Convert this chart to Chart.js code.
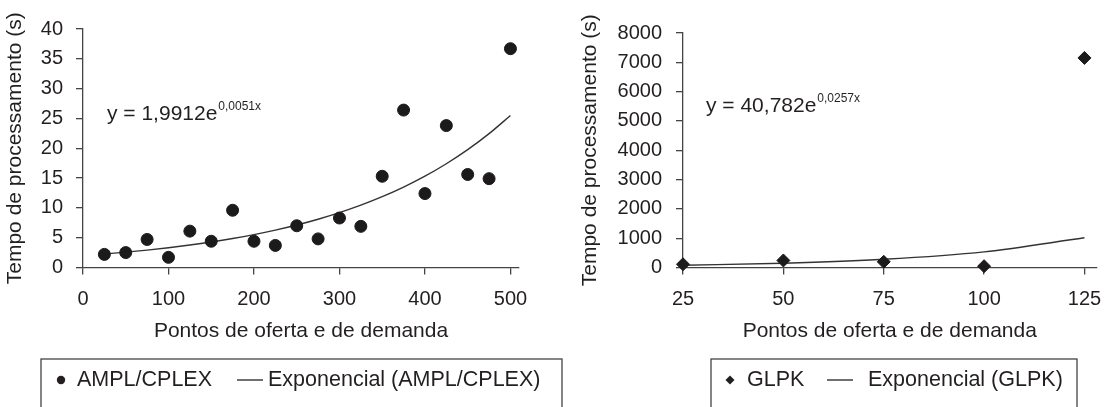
<!DOCTYPE html>
<html>
<head>
<meta charset="utf-8">
<script src="https://cdn.jsdelivr.net/npm/chart.js@4/dist/chart.umd.min.js"></script>
<style>
  html, body { margin: 0; padding: 0; background: #fff; overflow: hidden; }
  .wrap { position: relative; width: 1104px; height: 407px; }
  canvas { position: absolute; left: 0; top: 0; }
</style>
</head>
<body>
<div class="wrap">
  <canvas id="cplex-chart" width="1104" height="407"></canvas>
  <canvas id="glpk-chart" width="1104" height="407"></canvas>
</div>
<script>
// AMPL/CPLEX run times
const cplexPoints = [25, 50, 75, 100, 125, 150, 175, 200, 225, 250, 275, 300, 325, 350, 375, 400, 425, 450, 475, 500];
const cplexTime = [2.2, 2.5, 4.7, 1.7, 6.1, 4.4, 9.6, 4.4, 3.7, 7.0, 4.8, 8.3, 6.9, 15.3, 26.4, 12.4, 23.8, 15.6, 14.9, 36.7];
const cplexTrend = [2.26, 2.57, 2.92, 3.32, 3.77, 4.28, 4.86, 5.52, 6.27, 7.13, 8.10, 9.20, 10.45, 11.87, 13.48, 15.31, 17.40, 19.76, 22.45, 25.50];
const cplexXTicks = [0, 100, 200, 300, 400, 500];
const cplexYTicks = [0, 5, 10, 15, 20, 25, 30, 35, 40];
const cplexEquation = ['y = 1,9912e', '0,0051x'];

// GLPK run times
const glpkPoints = [25, 50, 75, 100, 125];
const glpkTime = [110, 240, 195, 45, 7150];
const glpkTrend = [77.5, 147.4, 280.2, 532.9, 1013.1];
const glpkXTicks = [25, 50, 75, 100, 125];
const glpkYTicks = [0, 1000, 2000, 3000, 4000, 5000, 6000, 7000, 8000];
const glpkEquation = ['y = 40,782e', '0,0257x'];

const xTitle = 'Pontos de oferta e de demanda';
const yTitle = 'Tempo de processamento (s)';

const FONT = '"Liberation Sans", Arial, sans-serif';
const INK = '#231f20';
const AXIS = '#444';

const toXY = (xs, ys) => xs.map((x, i) => ({ x, y: ys[i] }));

// equation text with superscript exponent
const equationLabel = {
  id: 'equationLabel',
  afterDraw(chart, args, opts) {
    const ctx = chart.ctx;
    ctx.save();
    ctx.fillStyle = INK;
    ctx.textBaseline = 'middle';
    ctx.textAlign = 'left';
    ctx.font = `21px ${FONT}`;
    ctx.fillText(opts.text[0], opts.x, opts.y);
    const w = ctx.measureText(opts.text[0]).width;
    ctx.font = `12px ${FONT}`;
    ctx.fillText(opts.text[1], opts.x + w + 1, opts.y - 7);
    ctx.restore();
  }
};

// legend drawn inside a framed box
const framedLegend = {
  id: 'framedLegend',
  afterDraw(chart, args, opts) {
    const ctx = chart.ctx;
    ctx.save();
    ctx.strokeStyle = AXIS;
    ctx.lineWidth = 1.3;
    ctx.strokeRect(opts.left, opts.top, opts.right - opts.left, 120);
    ctx.font = `21.5px ${FONT}`;
    ctx.textBaseline = 'middle';
    ctx.textAlign = 'left';
    chart.data.datasets.forEach((ds, i) => {
      const slot = opts.slots[i];
      const y = opts.y;
      ctx.fillStyle = INK;
      ctx.strokeStyle = INK;
      ctx.beginPath();
      if (ds.showLine) {
        ctx.lineWidth = 1.3;
        ctx.moveTo(slot.marker, y);
        ctx.lineTo(slot.marker + 26, y);
        ctx.stroke();
      } else if (ds.pointStyle === 'rectRot') {
        const r = 4.5;
        ctx.moveTo(slot.marker - r, y);
        ctx.lineTo(slot.marker, y - r);
        ctx.lineTo(slot.marker + r, y);
        ctx.lineTo(slot.marker, y + r);
        ctx.closePath();
        ctx.fill();
      } else {
        ctx.arc(slot.marker, y, 4.2, 0, Math.PI * 2);
        ctx.fill();
      }
      ctx.fillText(ds.label, slot.text, y);
    });
    ctx.restore();
  }
};

function axisOptions(min, max, ticks, title, tickPad, titlePad, fixSize) {
  return {
    type: 'linear',
    min: min,
    max: max,
    afterBuildTicks: (scale) => { scale.ticks = ticks.map(v => ({ value: v })); },
    afterFit: (scale) => {
      fixSize(scale);
      // keep the plot area where the layout padding puts it
      scale.paddingLeft = 0;
      scale.paddingRight = 0;
      scale.paddingTop = 0;
      scale.paddingBottom = 0;
    },
    grid: { drawOnChartArea: false, drawTicks: true, tickLength: 7, color: AXIS, lineWidth: 1.3 },
    border: { display: true, color: AXIS, width: 1.3 },
    ticks: {
      color: INK,
      padding: tickPad,
      font: { family: FONT, size: 20 },
      callback: (value) => String(value)
    },
    title: { display: true, text: title, color: INK, padding: titlePad, font: { family: FONT, size: 21 } }
  };
}

function makeChart(id, cfg) {
  const ctx = document.getElementById(id).getContext('2d');
  return new Chart(ctx, {
    type: 'scatter',
    data: {
      datasets: [{
        label: cfg.label,
        data: toXY(cfg.xs, cfg.ys),
        pointStyle: cfg.pointStyle,
        pointRadius: cfg.radius,
        pointHoverRadius: cfg.radius,
        backgroundColor: '#1c1a1b',
        borderColor: '#1c1a1b',
        borderWidth: 1,
        showLine: false,
        clip: false
      }, {
        label: 'Exponencial (' + cfg.label + ')',
        data: toXY(cfg.xs, cfg.trend),
        showLine: true,
        pointRadius: 0,
        borderColor: '#333',
        borderWidth: 1.4,
        cubicInterpolationMode: 'monotone',
        clip: false
      }]
    },
    options: {
      responsive: false,
      animation: false,
      devicePixelRatio: 1,
      layout: { padding: cfg.padding },
      scales: {
        x: axisOptions(cfg.xMin, cfg.xMax, cfg.xTicks, xTitle, 13, { top: 0, bottom: 4 },
          (scale) => { scale.height = 80; }),
        y: axisOptions(0, cfg.yMax, cfg.yTicks, yTitle, cfg.yTickPad, { top: cfg.yTitlePad, bottom: 0 },
          (scale) => { scale.width = cfg.yWidth; })
      },
      plugins: {
        legend: { display: false },
        tooltip: { enabled: false },
        equationLabel: cfg.equation,
        framedLegend: cfg.legend
      }
    },
    plugins: [equationLabel, framedLegend]
  });
}

makeChart('cplex-chart', {
  label: 'AMPL/CPLEX',
  xs: cplexPoints, ys: cplexTime, trend: cplexTrend,
  pointStyle: 'circle', radius: 6,
  xMin: 0, xMax: 510, xTicks: cplexXTicks,
  yMax: 40, yTicks: cplexYTicks,
  padding: { top: 29, left: 0, right: 585, bottom: 59.5 },
  yWidth: 83, yTickPad: 13, yTitlePad: 3,
  equation: { x: 107, y: 114, text: cplexEquation },
  legend: { left: 41, top: 359, right: 562, y: 380,
    slots: [{ marker: 61, text: 77 }, { marker: 237, text: 268 }] }
});

makeChart('glpk-chart', {
  label: 'GLPK',
  xs: glpkPoints, ys: glpkTime, trend: glpkTrend,
  pointStyle: 'rectRot', radius: 6.5,
  xMin: 25, xMax: 128, xTicks: glpkXTicks,
  yMax: 8000, yTicks: glpkYTicks,
  padding: { top: 33, left: 572, right: 4, bottom: 59.5 },
  yWidth: 111, yTickPad: 14, yTitlePad: 6,
  equation: { x: 706, y: 106, text: glpkEquation },
  legend: { left: 711, top: 359, right: 1077, y: 380,
    slots: [{ marker: 730, text: 747 }, { marker: 827, text: 868 }] }
});
</script>
</body>
</html>
